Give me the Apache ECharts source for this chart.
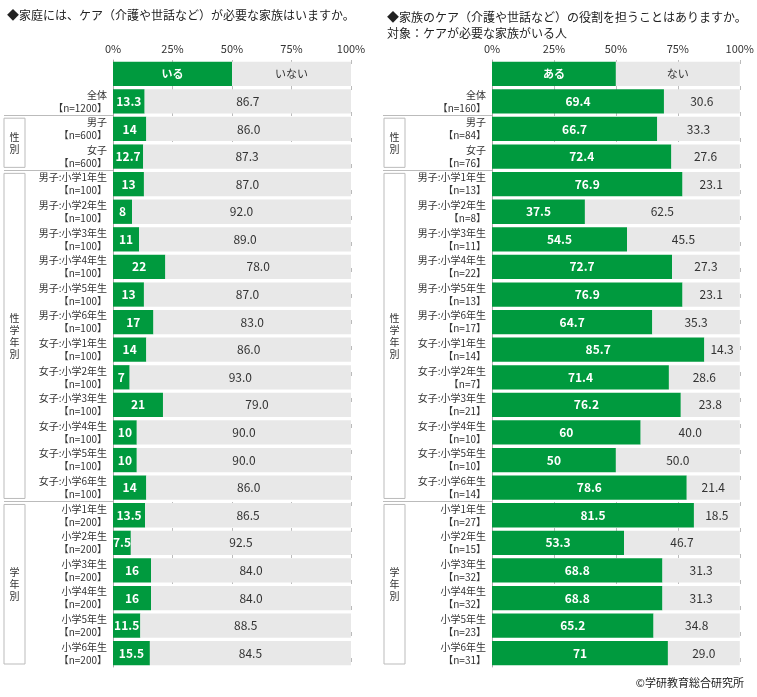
<!DOCTYPE html>
<html>
<head>
<meta charset="utf-8">
<script src="https://cdn.jsdelivr.net/npm/echarts@6/dist/echarts.min.js"></script>
<style>body{margin:0;background:#fff}#c{width:757px;height:697px}</style>
</head>
<body>
<div id="c"></div>
<script>
var chart = echarts.init(document.getElementById('c'));
var F = '"Noto Sans CJK JP", sans-serif';
var GREEN = '#009a3e', GRAY = '#e8e8e8';

// 左：ケアが必要な家族はいるか
var leftCats = ['', '全体\n【n=1200】', '男子\n【n=600】', '女子\n【n=600】',
  '男子:小学1年生\n【n=100】','男子:小学2年生\n【n=100】','男子:小学3年生\n【n=100】','男子:小学4年生\n【n=100】','男子:小学5年生\n【n=100】','男子:小学6年生\n【n=100】',
  '女子:小学1年生\n【n=100】','女子:小学2年生\n【n=100】','女子:小学3年生\n【n=100】','女子:小学4年生\n【n=100】','女子:小学5年生\n【n=100】','女子:小学6年生\n【n=100】',
  '小学1年生\n【n=200】','小学2年生\n【n=200】','小学3年生\n【n=200】','小学4年生\n【n=200】','小学5年生\n【n=200】','小学6年生\n【n=200】'];
var leftYes = [13.3,14.0,12.7,13.0,8.0,11.0,22.0,13.0,17.0,14.0,7.0,21.0,10.0,10.0,14.0,13.5,7.5,16.0,16.0,11.5,15.5];
var leftNo  = [86.7,86.0,87.3,87.0,92.0,89.0,78.0,87.0,83.0,86.0,93.0,79.0,90.0,90.0,86.0,86.5,92.5,84.0,84.0,88.5,84.5];

// 右：家族のケアの役割を担うことはあるか
var rightCats = ['', '全体\n【n=160】', '男子\n【n=84】', '女子\n【n=76】',
  '男子:小学1年生\n【n=13】','男子:小学2年生\n【n=8】','男子:小学3年生\n【n=11】','男子:小学4年生\n【n=22】','男子:小学5年生\n【n=13】','男子:小学6年生\n【n=17】',
  '女子:小学1年生\n【n=14】','女子:小学2年生\n【n=7】','女子:小学3年生\n【n=21】','女子:小学4年生\n【n=10】','女子:小学5年生\n【n=10】','女子:小学6年生\n【n=14】',
  '小学1年生\n【n=27】','小学2年生\n【n=15】','小学3年生\n【n=32】','小学4年生\n【n=32】','小学5年生\n【n=23】','小学6年生\n【n=31】'];
var rightYes = [69.4,66.7,72.4,76.9,37.5,54.5,72.7,76.9,64.7,85.7,71.4,76.2,60.0,50.0,78.6,81.5,53.3,68.8,68.8,65.2,71.0];
var rightNo  = [30.6,33.3,27.6,23.1,62.5,45.5,27.3,23.1,35.3,14.3,28.6,23.8,40.0,50.0,21.4,18.5,46.7,31.3,31.3,34.8,29.0];

function yesSeries(idx, vals, head) {
  var d = [{value: 50, label: {formatter: head, fontSize: 11}}].concat(vals);
  return {type: 'bar', stack: 's' + idx, xAxisIndex: idx, yAxisIndex: idx, data: d,
    barCategoryGap: '12%', itemStyle: {color: GREEN}, silent: true,
    label: {show: true, position: 'inside', color: '#fff', fontWeight: 'bold', fontSize: 12, fontFamily: F}};
}
function noSeries(idx, vals, head) {
  var d = [{value: 50, label: {formatter: head, fontWeight: 'normal', fontSize: 11}}].concat(vals);
  return {type: 'bar', stack: 's' + idx, xAxisIndex: idx, yAxisIndex: idx, data: d,
    itemStyle: {color: GRAY}, silent: true,
    label: {show: true, position: 'inside', color: '#333', fontSize: 12, fontFamily: F,
      formatter: function(p){ return p.value.toFixed(1); }}};
}
function xAx(idx) {
  return {type: 'value', gridIndex: idx, min: 0, max: 100, interval: 25, position: 'top',
    axisLabel: {formatter: '{value}%', color: '#333', fontSize: 11, fontFamily: F, margin: 6},
    axisLine: {show: false}, axisTick: {show: false},
    splitLine: {lineStyle: {color: '#bbb', type: [4, 22], dashOffset: 0}}};
}
function yAx(idx, cats) {
  return {type: 'category', gridIndex: idx, data: cats, inverse: true,
    axisLine: {lineStyle: {color: '#aaa'}}, axisTick: {show: false},
    axisLabel: {color: '#333', fontSize: 10, lineHeight: 13, fontFamily: F, margin: 6}};
}
var yesL = yesSeries(0, leftYes, 'いる'); yesL.data[0].label.formatter = 'いる';
var yesR = yesSeries(1, rightYes, 'ある'); yesR.data[0].label.formatter = 'ある';
var noL = noSeries(0, leftNo); noL.data[0].label.formatter = 'いない';
var noR = noSeries(1, rightNo); noR.data[0].label.formatter = 'ない';

chart.setOption({
  animation: false,
  textStyle: {fontFamily: F},
  title: [
    {text: '◆家庭には、ケア（介護や世話など）が必要な家族はいますか。', left: 2, top: 4,
      textStyle: {fontSize: 12, fontWeight: 'normal', color: '#222', fontFamily: F}},
    {text: '◆家族のケア（介護や世話など）の役割を担うことはありますか。\n対象：ケアが必要な家族がいる人', left: 382, top: 4,
      textStyle: {fontSize: 12, fontWeight: 'normal', color: '#222', lineHeight: 16, fontFamily: F}},
    {text: '©学研教育総合研究所', right: 8, bottom: 4,
      textStyle: {fontSize: 11, fontWeight: 'normal', color: '#222', fontFamily: F}}
  ],
  grid: [
    {left: 113, width: 238, top: 60, height: 607},
    {left: 492, width: 253, top: 60, height: 607}
  ],
  xAxis: [xAx(0), xAx(1)],
  yAxis: [yAx(0, leftCats), yAx(1, rightCats)],
  series: [yesL, noL, yesR, noR]
});

// グループ枠と区切り線
var g = [];
function addGroups(idx, x0, x1, bx0, bx1) {
  var step = chart.convertToPixel({yAxisIndex: idx}, 1) - chart.convertToPixel({yAxisIndex: idx}, 0);
  function edge(i) { return chart.convertToPixel({yAxisIndex: idx}, i) - step / 2; }
  [2, 4, 16].forEach(function(i) {
    var y = Math.round(edge(i)) + 0.5;
    g.push({type: 'line', shape: {x1: x0, y1: y, x2: x1, y2: y}, style: {stroke: '#bbb', lineWidth: 1}});
  });
  [[2, 4, '性\n別'], [4, 16, '性\n学\n年\n別'], [16, 22, '学\n年\n別']].forEach(function(r) {
    var y1 = edge(r[0]) + 3, y2 = edge(r[1]) - 3;
    g.push({type: 'rect', shape: {x: bx0, y: y1, width: bx1 - bx0, height: y2 - y1},
      style: {fill: 'none', stroke: '#bbb', lineWidth: 1}});
    g.push({type: 'text', x: (bx0 + bx1) / 2, y: (y1 + y2) / 2,
      style: {text: r[2], fill: '#333', font: '10px ' + F, align: 'center', verticalAlign: 'middle', lineHeight: 12}});
  });
}
addGroups(0, 4, 113, 4, 25);
addGroups(1, 383, 492, 384, 405);
chart.setOption({graphic: g});
</script>
</body>
</html>
